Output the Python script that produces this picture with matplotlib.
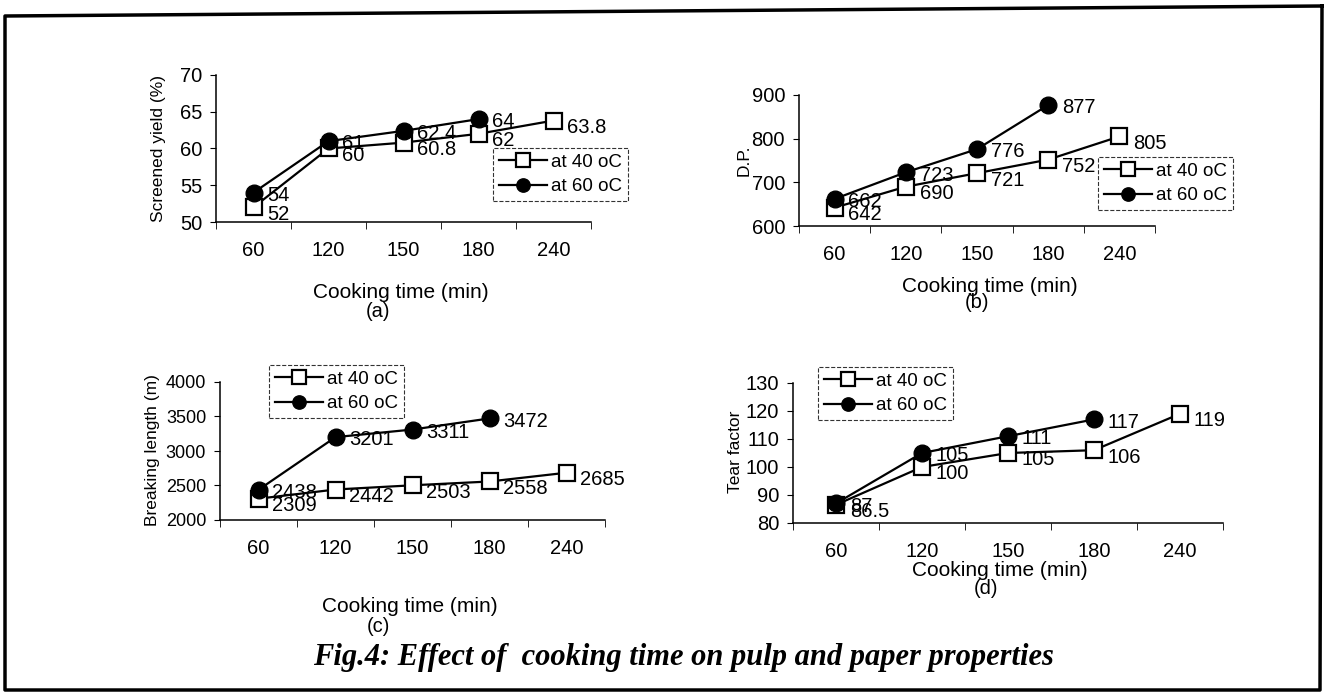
import numpy as np
import matplotlib.pyplot as plt
from matplotlib.lines import Line2D

plt.rcParams['font.family'] = ['Liberation Sans', 'DejaVu Sans']

# Datos
cook_time = ['60', '120', '150', '180', '240']
yield_40 = [52, 60, 60.8, 62, 63.8]
yield_60 = [54, 61, 62.4, 64]
dp_40 = [642, 690, 721, 752, 805]
dp_60 = [662, 723, 776, 877]
bl_40 = [2309, 2442, 2503, 2558, 2685]
bl_60 = [2438, 3201, 3311, 3472]
tear_40 = [86.5, 100, 105, 106, 119]
tear_60 = [87, 105, 111, 117]

W, H = 1326, 697
fig = plt.figure(figsize=(W / 100, H / 100), dpi=100)


def px_box(l, r, t, b):
    return [l / W, 1 - b / H, (r - l) / W, (b - t) / H]


def panel(box, s40, s60, ylim, ystep, ylabel, ylab_xy, leg_xy, xlab_xy, tag_xy, tag, ytick_fs=14.5):
    ax = fig.add_axes(px_box(*box))
    x40 = np.arange(len(s40))
    x60 = np.arange(len(s60))
    ax.plot(x40, s40, '-s', color='black', lw=1.6, ms=12, mfc='white', mec='black', mew=1.6,
            label='at 40 oC', zorder=3)
    ax.plot(x60, s60, '-o', color='black', lw=1.6, ms=12, mfc='black', label='at 60 oC', zorder=3)
    for xi, v in zip(x40, s40):
        ax.annotate(f'{v:g}', (xi, v), xytext=(10, -5), textcoords='offset points',
                    va='center', ha='left', fontsize=14.5)
    for xi, v in zip(x60, s60):
        ax.annotate(f'{v:g}', (xi, v), xytext=(10, -2), textcoords='offset points',
                    va='center', ha='left', fontsize=14.5)
    ax.set_xlim(-0.5, len(cook_time) - 0.5)
    ax.set_ylim(*ylim)
    ax.set_yticks(np.arange(ylim[0], ylim[1] + ystep / 2, ystep))
    ax.set_xticks(range(len(cook_time)))
    ax.set_xticklabels(cook_time, fontsize=14.5)
    ax.set_xticks(np.arange(-0.5, len(cook_time)), minor=True)
    ax.tick_params(axis='x', which='major', length=0, pad=14)
    ax.tick_params(axis='x', which='minor', length=5, direction='out')
    ax.tick_params(axis='y', labelsize=ytick_fs, length=4, direction='out', pad=6)
    for s in ['top', 'right']:
        ax.spines[s].set_visible(False)
    for s in ['left', 'bottom']:
        ax.spines[s].set_linewidth(1.1)
    ax.set_facecolor('none')
    leg = ax.legend(loc='upper left', bbox_to_anchor=(leg_xy[0] / W, 1 - leg_xy[1] / H),
                    bbox_transform=fig.transFigure, frameon=True, fancybox=False,
                    fontsize=13.5, handlelength=2.6, borderpad=0.3, labelspacing=0.4,
                    handletextpad=0.2, borderaxespad=0, markerscale=0.8)
    leg.get_frame().set_edgecolor('black')
    leg.get_frame().set_linewidth(0.8)
    leg.get_frame().set_linestyle('--')
    fig.text(ylab_xy[0] / W, 1 - ylab_xy[1] / H, ylabel, rotation=90, ha='center', va='center',
             fontsize=12.5)
    fig.text(xlab_xy[0] / W, 1 - xlab_xy[1] / H, 'Cooking time (min)', ha='center', va='center',
             fontsize=15)
    fig.text(tag_xy[0] / W, 1 - tag_xy[1] / H, tag, ha='center', va='center', fontsize=14.5)
    return ax


panel((216, 591, 75, 222), yield_40, yield_60, (50, 70), 5, 'Screened yield (%)',
      (158, 148), (493, 148), (401, 293), (378, 311), '(a)')
panel((799, 1155, 95, 226), dp_40, dp_60, (600, 900), 100, 'D.P.',
      (744, 160), (1098, 157), (990, 286), (977, 302), '(b)')
panel((220, 605, 382, 520), bl_40, bl_60, (2000, 4000), 500, 'Breaking length (m)',
      (152, 450), (269, 365), (410, 607), (378, 627), '(c)', ytick_fs=13)
panel((793, 1223, 383, 523), tear_40, tear_60, (80, 130), 10, 'Tear factor',
      (736, 452), (818, 367), (1000, 570), (986, 589), '(d)')

fig.text(683 / W, 1 - 657 / H, 'Fig.4: Effect of  cooking time on pulp and paper properties',
         ha='center', va='center', fontsize=22, fontweight='bold', fontstyle='italic',
         family=['Liberation Serif', 'DejaVu Serif'])

# marco exterior de la figura escaneada
frame_x = [1322, 5, 5, 1320, 1322]
frame_y = [6, 16, 690, 690, 6]
fig.add_artist(Line2D([x / W for x in frame_x], [1 - y / H for y in frame_y],
                      transform=fig.transFigure, color='black', lw=2.5))

fig.savefig('out.png', dpi=100, facecolor='white')
